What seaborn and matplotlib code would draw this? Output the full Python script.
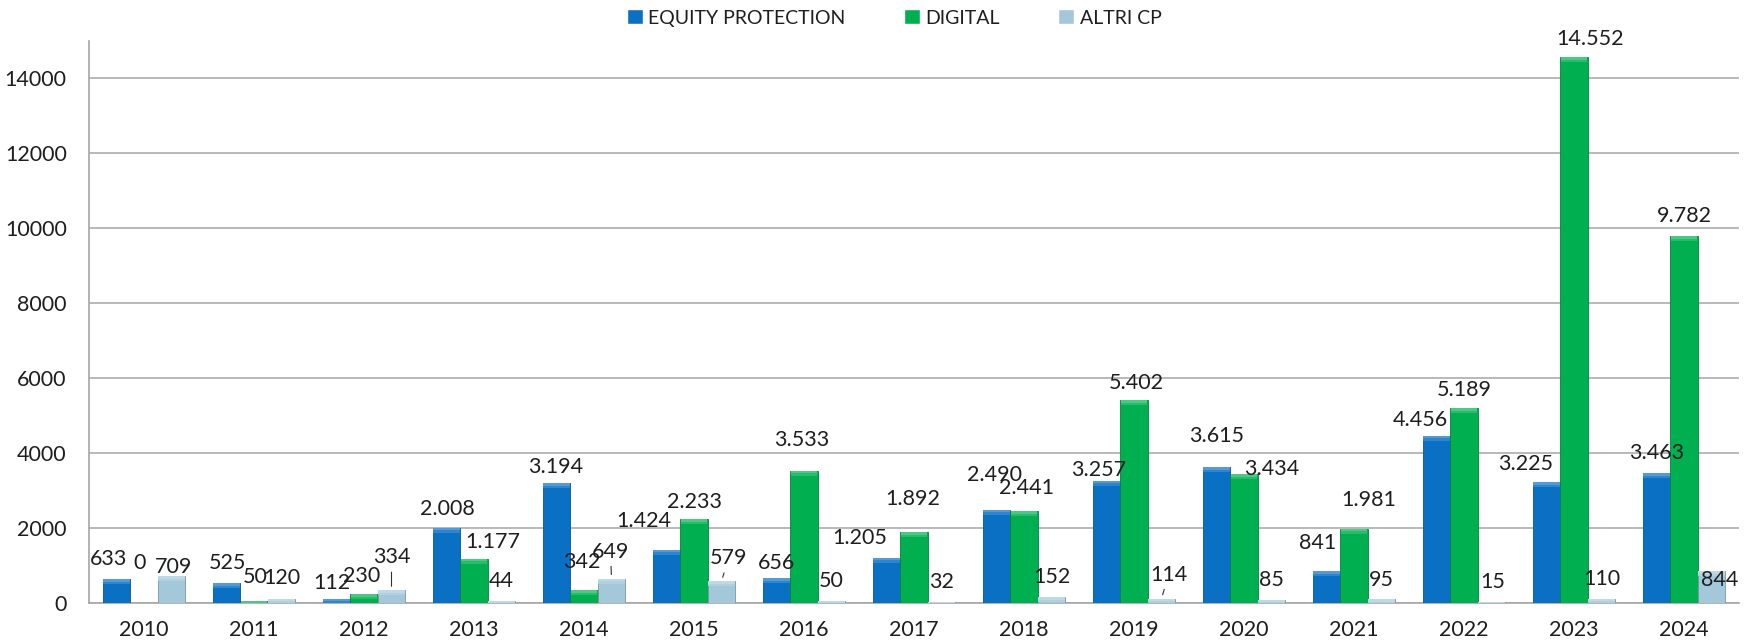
import numpy as np
import pandas as pd
import matplotlib.pyplot as plt
import matplotlib.colors as mcolors
from matplotlib.patches import Rectangle
import seaborn as sns

# values
years = [str(y) for y in range(2010, 2025)]
series_names = ['EQUITY PROTECTION', 'DIGITAL', 'ALTRI CP']
equity_protection = [633, 525, 112, 2008, 3194, 1424, 656, 1205, 2490, 3257, 3615, 841, 4456, 3225, 3463]
digital = [0, 50, 230, 1177, 342, 2233, 3533, 1892, 2441, 5402, 3434, 1981, 5189, 14552, 9782]
altri_cp = [709, 120, 334, 44, 649, 579, 50, 32, 152, 114, 85, 95, 15, 110, 844]
y_ticks = [0, 2000, 4000, 6000, 8000, 10000, 12000, 14000]

colors = ['#0A70C4', '#00B050', '#A2C8DA']

# label nudges in pixels (dx, dy) from the top centre of each bar
nudge = {
    'EQUITY PROTECTION': [(-8, 20), (1, 20), (-5, 16), (1, 19), (-1, 16), (-23, 29), (0, 15), (-27, 20),
                          (-2, 35), (-8, 11), (0, 31), (-9, 28), (-16, 16), (-21, 18), (0, 20)],
    'DIGITAL': [(-4, 40), (1, 24), (-2, 18), (19, 17), (-2, 28), (0, 17), (-2, 31), (-1, 33),
                (3, 23), (2, 17), (28, 5), (15, 29), (0, 18), (16, 18), (0, 20)],
    'ALTRI CP': [(2, 9), (0, 20), (0, 33), (0, 20), (-1, 27), (7, 23), (0, 20), (0, 20),
                 (0, 20), (7, 24), (0, 20), (0, 19), (1, 20), (0, 20), (8, -9)],
}
leaders = {('ALTRI CP', '2012'), ('ALTRI CP', '2014'), ('ALTRI CP', '2015'), ('ALTRI CP', '2019')}

df = pd.DataFrame({
    'year': years * 3,
    'serie': np.repeat(series_names, len(years)),
    'value': equity_protection + digital + altri_cp,
})

sns.set_theme(style='white')
plt.rcParams['font.family'] = ['Lato', 'DejaVu Sans']
text_color = '#1e1e1e'
fs = 15.5

fig = plt.figure(figsize=(17.5, 6.43), dpi=100)
ax = fig.add_axes([89 / 1750, 1 - 603 / 643, 1650 / 1750, 562.5 / 643])

sns.barplot(data=df, x='year', y='value', hue='serie', order=years, hue_order=series_names,
            palette=colors, width=0.75, saturation=1, ax=ax, zorder=3)

# px -> data units on y (for the soft bevel on top of each bar)
px_per_unit = 562.5 / 15000

for cont, name, col in zip(ax.containers, series_names, colors):
    rgb = np.array(mcolors.to_rgb(col))
    edge = tuple(rgb * 0.75)
    for i, p in enumerate(cont.patches):
        p.set_edgecolor(edge)
        p.set_linewidth(0.6)
        v = p.get_height()
        xc = p.get_x() + p.get_width() / 2
        if v > 0:
            # two thin lighter strips give a rough bevel look
            for frac, hpx in [(0.15, 5), (0.3, 2.5)]:
                h = min(v, hpx / px_per_unit)
                ax.add_patch(Rectangle((p.get_x() + 0.004, v - h), p.get_width() - 0.008, h,
                                       facecolor=tuple(rgb + (1 - rgb) * frac), lw=0, zorder=3.5))
        dx, dy = nudge[name][i]
        label = f'{int(v):,}'.replace(',', '.')
        kw = {}
        if (name, years[i]) in leaders:
            kw['arrowprops'] = dict(arrowstyle='-', color='#303030', lw=0.8, shrinkA=1, shrinkB=3)
        ax.annotate(label, xy=(xc, v), xytext=(dx, dy), textcoords='offset pixels',
                    ha='center', va='center', fontsize=fs, color=text_color, zorder=5, **kw)

ax.set_xlim(-0.5, len(years) - 0.5)
ax.set_ylim(0, 15000)
ax.set_yticks(y_ticks)
ax.set_yticklabels([str(t) for t in y_ticks])
ax.set_xlabel('')
ax.set_ylabel('')
ax.grid(axis='y', color='#A6A6A6', lw=1.1, zorder=0)
ax.grid(axis='x', visible=False)
ax.tick_params(axis='y', length=0, pad=16, labelsize=fs, labelcolor=text_color)
ax.tick_params(axis='x', length=0, pad=12, labelsize=fs, labelcolor=text_color)
for side in ['top', 'right']:
    ax.spines[side].set_visible(False)
for side in ['left', 'bottom']:
    ax.spines[side].set_color('#A6A6A6')
    ax.spines[side].set_linewidth(1.2)

handles, labels = ax.get_legend_handles_labels()
ax.legend(handles, labels, loc='center', bbox_to_anchor=(0.511, 0.972), bbox_transform=fig.transFigure,
          ncol=3, frameon=False, fontsize=14, handlelength=0.8, handleheight=0.8,
          handletextpad=0.3, columnspacing=3.0, labelcolor=text_color)

fig.savefig('out.png', dpi=100)
